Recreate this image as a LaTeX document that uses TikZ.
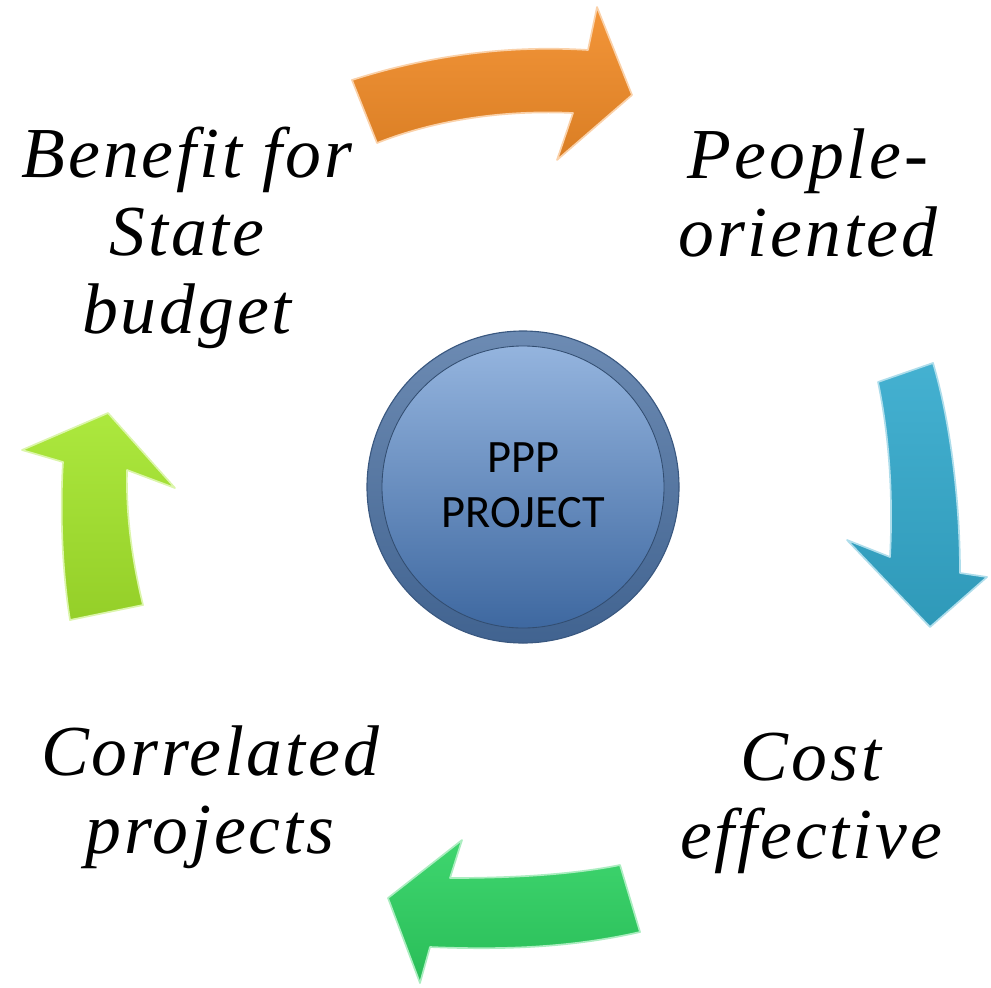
\documentclass[tikz,border=0pt]{standalone}
\usepackage{fontspec}
\setmainfont{Liberation Serif}
\newfontfamily\labelfont[LetterSpace=4]{Liberation Serif}
\newfontfamily\cfont{Carlito}
\usepackage{tikz}
\definecolor{arrowOrange}{RGB}{242,140,40}
\definecolor{arrowBlue}{RGB}{52,170,205}
\definecolor{arrowGreen}{RGB}{46,210,98}
\definecolor{arrowLime}{RGB}{165,230,45}
\definecolor{ringBlue}{RGB}{72,110,160}
\definecolor{discTop}{RGB}{148,180,222}
\definecolor{discBottom}{RGB}{62,104,160}
\tikzset{
  blockarrow/.style={draw=#1!40!white, line width=1.2pt, top color=#1!92!white, bottom color=#1!90!black},
  labeltext/.style={align=center, font=\labelfont\fontsize{51}{55.5}\selectfont\itshape},
}
\begin{document}
\begin{tikzpicture}[line cap=round,line join=round,x=0.025cm,y=-0.025cm]
\useasboundingbox (0,0) rectangle (991,987);
\draw [blockarrow=arrowOrange] (352,80) .. controls (430,55) and (510,45) .. (588,50) -- (597,7) -- (632,95) -- (557,160) -- (573,113) .. controls (510,110) and (440,118) .. (377,143) -- cycle;
\draw [blockarrow=arrowBlue] (878,382) -- (933,363) .. controls (950,420) and (960,500) .. (960,573) -- (987,577) -- (930,627) -- (847,540) -- (890,557) .. controls (893,500) and (890,440) .. (878,382) -- cycle;
\draw [blockarrow=arrowGreen] (620,865) -- (640,932) .. controls (570,948) and (500,950) .. (430,947) -- (420,983) -- (388,898) -- (462,840) -- (450,878) .. controls (510,878) and (570,875) .. (620,865) -- cycle;
\draw [blockarrow=arrowLime] (70,620) -- (143,605) .. controls (132,560) and (126,515) .. (127,470) -- (175,488) -- (108,413) -- (22,450) -- (63,462) .. controls (60,510) and (62,570) .. (70,620) -- cycle;
\draw [draw=ringBlue!80!black, line width=0.8pt, top color=ringBlue!80!white, bottom color=ringBlue!90!black] (523,487) circle (156);
\draw [draw=ringBlue!70!black, line width=0.6pt, top color=discTop, bottom color=discBottom] (523,487) circle (141);
\node [align=center, font=\cfont\fontsize{33}{39}\selectfont] (ppp) at (523,485) {PPP\\PROJECT};
\node [labeltext] (benefit) at (187,238) {Benefit for\\State\\budget};
\node [labeltext] (people) at (808,193) {People-\\oriented};
\node [labeltext] (cost) at (811,803) {Cost\\effective};
\node [labeltext] (correl) at (210,797) {Correlated\\projects};
\end{tikzpicture}
\end{document}
